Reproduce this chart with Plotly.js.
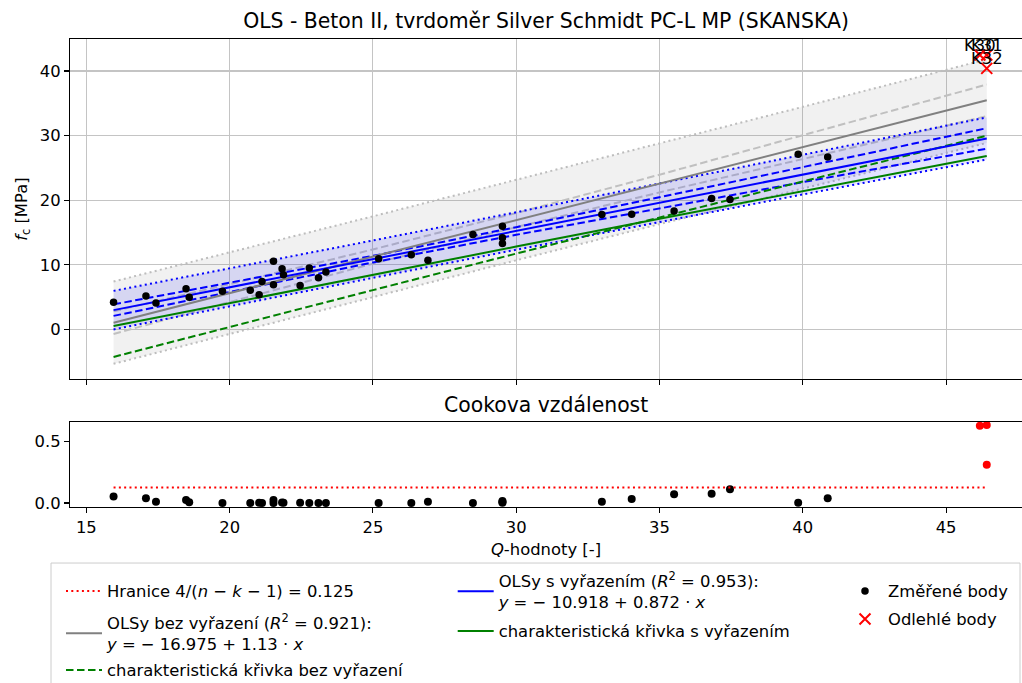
<!DOCTYPE html>
<html><head><meta charset="utf-8">
<script src="https://cdn.plot.ly/plotly-3.0.1.min.js"></script>
<style>html,body{margin:0;padding:0;background:#fff}</style>
</head><body>
<div id="chart" style="width:1022px;height:683px"></div>
<script>
// ---- measured points (Q-value, f_c) ----
const xMeasured = [15.95, 17.08, 17.43, 18.48, 18.59, 19.75, 20.72, 21.03, 21.13, 21.53, 21.53, 21.83, 21.88, 22.46, 22.78, 23.10, 23.36, 25.20, 26.34, 26.92, 28.49, 29.52, 29.52, 29.52, 32.99, 34.03, 35.51, 36.82, 37.46, 39.84, 40.87];
const yMeasured = [4.23, 5.17, 4.08, 6.30, 5.00, 5.90, 6.05, 5.37, 7.44, 10.54, 6.92, 9.40, 8.48, 6.82, 9.50, 8.00, 8.88, 10.96, 11.58, 10.70, 14.68, 15.97, 14.20, 13.29, 17.78, 17.83, 18.34, 20.26, 20.10, 27.13, 26.67];
const cookMeasured = [0.052, 0.038, 0.011, 0.025, 0.006, 0.001, 0.000, 0.003, 0.001, 0.025, 0.001, 0.005, 0.002, 0.002, 0.001, 0.001, 0.001, 0.001, 0.001, 0.011, 0.001, 0.002, 0.008, 0.016, 0.011, 0.033, 0.071, 0.074, 0.112, 0.003, 0.038];
// ---- outliers ----
const xOutlier = [46.18, 46.42, 46.42];
const yOutlier = [42.48, 42.48, 40.40];
const cookOutlier = [0.625, 0.631, 0.310];
const outlierLabels = ['K30', 'K31', 'K32'];
// ---- regression curves / bands ----
const xBand = [15.95, 20, 25, 30, 35, 40, 46.42];
const fitAll    = [1.05, 5.63, 11.28, 16.93, 22.58, 28.23, 35.48];
const confAllLo = [-0.70, 4.24, 10.18, 15.84, 21.21, 26.42, 33.01];
const confAllHi = [2.80, 7.02, 12.38, 18.02, 23.95, 30.04, 37.90];
const predAllLo = [-5.32, -0.67, 5.05, 10.70, 16.30, 21.84, 28.87];
const predAllHi = [7.42, 11.92, 17.51, 23.16, 28.80, 34.45, 41.80];
const fitFilt    = [2.99, 6.52, 10.88, 15.24, 19.60, 23.96, 29.56];
const confFiltLo = [2.10, 5.85, 10.37, 14.65, 18.76, 22.80, 27.97];
const confFiltHi = [3.88, 7.19, 11.39, 15.83, 20.44, 25.12, 31.15];
const predFiltLo = [0.01, 3.60, 7.99, 12.34, 16.64, 20.89, 26.30];
const predFiltHi = [5.97, 9.44, 13.77, 18.14, 22.56, 27.03, 32.82];
const charAll  = [-4.25, 0.40, 6.09, 11.74, 17.35, 22.91, 29.98];
const charFilt = [0.52, 4.10, 8.48, 12.83, 17.14, 21.41, 26.85];
// ---- Cook's distance limit ----
const xLimit = [15.95, 46.42];
const cookLimit = [0.125, 0.125];

const FONT = 'DejaVu Sans';
const FS = 16.4, FT = 20.4;
const W = 1022, H = 683, L = 70, R = 0, T = 39, B = 176.3;
const PW = W - L - R, PH = H - T - B;
const px2x = p => (p - L) / PW;
const py2y = p => (H - B - p) / PH;

const DASH = '7.5px,3.5px';
const DOT = '2px,3.3px';
const LW = 2;

const traces = [
  {x: xBand, y: predAllLo, mode: 'lines', line: {color: '#bdbdbd', width: LW, dash: DOT}, showlegend: false, hoverinfo: 'skip'},
  {x: xBand, y: predAllHi, mode: 'lines', line: {color: '#bdbdbd', width: LW, dash: DOT}, fill: 'tonexty', fillcolor: 'rgba(128,128,128,0.11)', showlegend: false, hoverinfo: 'skip'},
  {x: xBand, y: confAllLo, mode: 'lines', line: {color: '#c0c0c0', width: LW, dash: DASH}, showlegend: false},
  {x: xBand, y: confAllHi, mode: 'lines', line: {color: '#c0c0c0', width: LW, dash: DASH}, showlegend: false},
  {x: xBand, y: predFiltLo, mode: 'lines', line: {color: '#0000ff', width: LW, dash: DOT}, showlegend: false},
  {x: xBand, y: predFiltHi, mode: 'lines', line: {color: '#0000ff', width: LW, dash: DOT}, fill: 'tonexty', fillcolor: 'rgba(0,0,255,0.11)', showlegend: false},
  {x: xBand, y: confFiltLo, mode: 'lines', line: {color: '#0000ff', width: LW, dash: DASH}, showlegend: false},
  {x: xBand, y: confFiltHi, mode: 'lines', line: {color: '#0000ff', width: LW, dash: DASH}, showlegend: false},
  {x: xBand, y: fitAll, mode: 'lines', line: {color: '#808080', width: LW},
   name: 'OLSy bez vyřazení (<i>R</i><sup>2</sup> = 0.921):<br><i>y</i> = − 16.975 + 1.13 · <i>x</i>', legend: 'legend2'},
  {x: xBand, y: charAll, mode: 'lines', line: {color: '#008000', width: LW, dash: DASH},
   name: 'charakteristická křivka bez vyřazení', legend: 'legend3'},
  {x: xBand, y: fitFilt, mode: 'lines', line: {color: '#0000ff', width: LW},
   name: 'OLSy s vyřazením (<i>R</i><sup>2</sup> = 0.953):<br><i>y</i> = − 10.918 + 0.872 · <i>x</i>', legend: 'legend4'},
  {x: xBand, y: charFilt, mode: 'lines', line: {color: '#008000', width: LW},
   name: 'charakteristická křivka s vyřazením', legend: 'legend5'},
  {x: xMeasured, y: yMeasured, mode: 'markers', marker: {color: 'black', size: 7.5},
   name: 'Změřené body', legend: 'legend6'},
  {x: xOutlier, y: yOutlier, mode: 'markers', marker: {symbol: 'x-thin', size: 11, color: 'red', line: {color: 'red', width: 2}},
   name: 'Odlehlé body', legend: 'legend7'},
  {x: xMeasured, y: cookMeasured, xaxis: 'x2', yaxis: 'y2', mode: 'markers', marker: {color: 'black', size: 8}, showlegend: false},
  {x: xOutlier, y: cookOutlier, xaxis: 'x2', yaxis: 'y2', mode: 'markers', marker: {color: 'red', size: 8}, showlegend: false},
  {x: xLimit, y: cookLimit, xaxis: 'x2', yaxis: 'y2', mode: 'lines', line: {color: 'red', width: LW, dash: DOT},
   name: 'Hranice 4/(<i>n</i> − <i>k</i> − 1) = 0.125', legend: 'legend'}
];

function leg(xpx, ypx) {
  return {x: px2x(xpx), y: py2y(ypx), xanchor: 'left', yanchor: 'middle', xref: 'paper', yref: 'paper',
    bgcolor: 'rgba(0,0,0,0)', borderwidth: 0, itemwidth: 36, orientation: 'v',
    font: {family: FONT, size: FS, color: 'black'}};
}

const axCommon = {ticks: 'outside', ticklen: 5, tickwidth: 1.1, tickcolor: 'black', showline: true, automargin: false,
  linecolor: 'black', linewidth: 1.1, zeroline: false, tickfont: {family: FONT, size: FS, color: 'black'}};

const annotations = outlierLabels.map((t, i) => ({
  x: xOutlier[i], y: yOutlier[i], xref: 'x', yref: 'y', text: t, showarrow: false,
  xanchor: 'center', yanchor: 'bottom', yshift: -2, font: {family: FONT, size: FS, color: 'black'}
}));
annotations.push({x: 0.5, y: py2y(405), xref: 'paper', yref: 'paper', text: 'Cookova vzdálenost', showarrow: false,
  xanchor: 'center', yanchor: 'middle', font: {family: FONT, size: FT, color: 'black'}});

const layout = {
  width: W, height: H,
  margin: {l: L, r: R, t: T, b: B, pad: 0, autoexpand: false},
  paper_bgcolor: 'white', plot_bgcolor: 'white',
  font: {family: FONT, size: FS, color: 'black'},
  title: {text: 'OLS - Beton II, tvrdoměr Silver Schmidt PC-L MP (SKANSKA)', font: {family: FONT, size: FT, color: 'black'},
    x: 0.5, xref: 'paper', y: 1 - 21 / H, yref: 'container', yanchor: 'middle', automargin: false},
  xaxis: Object.assign({}, axCommon, {domain: [0, 1], anchor: 'y', range: [14.43, 47.65], tick0: 15, dtick: 5,
    showticklabels: false, mirror: true, showgrid: true, gridcolor: '#c4c4c4', gridwidth: 1.1}),
  yaxis: Object.assign({}, axCommon, {domain: [py2y(379), 1], anchor: 'x', range: [-7.70, 44.95], tick0: 0, dtick: 10,
    showgrid: true, gridcolor: '#c4c4c4', gridwidth: 1.1,
    title: {text: '<i>f</i><sub>c</sub> [MPa]', font: {family: FONT, size: FS, color: 'black'}, standoff: 8}}),
  xaxis2: Object.assign({}, axCommon, {domain: [0, 1], anchor: 'y2', range: [14.43, 47.65], tick0: 15, dtick: 5,
    mirror: true, showgrid: false,
    title: {text: '<i>Q</i>-hodnoty [-]', font: {family: FONT, size: FS, color: 'black'}, standoff: 7}}),
  yaxis2: Object.assign({}, axCommon, {domain: [0, py2y(421.7)], anchor: 'x2', range: [-0.0324, 0.6564],
    tickvals: [0, 0.5], ticktext: ['0.0', '0.5'], showgrid: false}),
  legend: leg(61, 591),
  legend2: leg(61, 633),
  legend3: leg(61, 670),
  legend4: leg(452.7, 591),
  legend5: leg(452.7, 631),
  legend6: leg(842, 591),
  legend7: leg(842, 619),
  shapes: [{type: 'rect', xref: 'paper', yref: 'paper', x0: px2x(51), x1: px2x(1020), y0: py2y(562.7), y1: py2y(720),
    line: {color: '#cccccc', width: 1}, fillcolor: 'rgba(255,255,255,0.8)', layer: 'below'}],
  annotations: annotations,
  showlegend: true
};

Plotly.newPlot('chart', traces, layout, {displayModeBar: false, staticPlot: true});
</script>
</body></html>
